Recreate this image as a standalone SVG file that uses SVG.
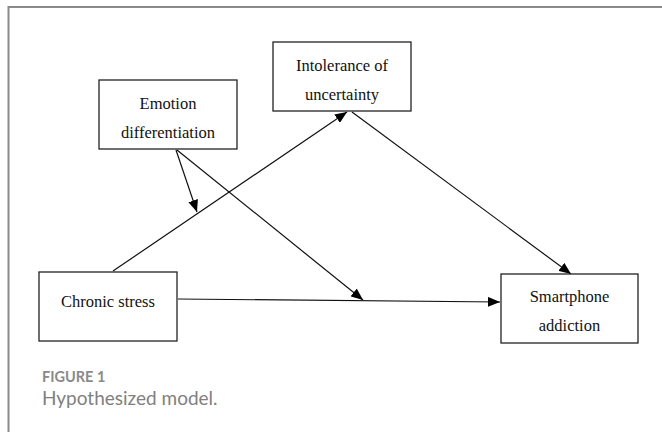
<svg xmlns="http://www.w3.org/2000/svg" width="662" height="432" viewBox="0 0 662 432">
<defs>
<style>
.box{fill:#fff;stroke:#222;stroke-width:1.3}
.t{font-family:"Liberation Serif","Times New Roman",serif;font-size:16.5px;fill:#111;text-anchor:middle}
.c{stroke:#111;stroke-width:1.2;fill:none;marker-end:url(#ah)}
.frame{stroke:#8a8a8a;stroke-width:2;fill:none}
</style>
<marker id="ah" viewBox="0 0 12 10" refX="12" refY="5" markerWidth="12" markerHeight="10" markerUnits="userSpaceOnUse" orient="auto">
<path d="M0,0 L12,5 L0,10 Z" fill="#000"/>
</marker>
</defs>
<rect width="662" height="432" fill="#fff"/>
<path class="frame" d="M8.5,440 L8.5,7 L670,7"/>
<g id="connectors">
<line class="c" x1="113" y1="271" x2="347" y2="112"/>
<line class="c" x1="352" y1="112" x2="571" y2="274"/>
<line class="c" x1="178" y1="299" x2="500" y2="302"/>
<line class="c" x1="176" y1="150" x2="197" y2="212"/>
<line class="c" x1="177" y1="150" x2="363" y2="300"/>
</g>
<g id="emotion">
<rect class="box" x="99" y="80" width="138" height="69"/>
<text class="t" x="168" y="109">Emotion</text>
<text class="t" x="168" y="138">differentiation</text>
</g>
<g id="intolerance">
<rect class="box" x="273" y="42" width="138" height="69"/>
<text class="t" x="342" y="71">Intolerance of</text>
<text class="t" x="342" y="100">uncertainty</text>
</g>
<g id="chronic">
<rect class="box" x="39" y="272" width="138" height="69"/>
<text class="t" x="108" y="307">Chronic stress</text>
</g>
<g id="smartphone">
<rect class="box" x="501" y="274" width="137" height="69"/>
<text class="t" x="569.5" y="302">Smartphone</text>
<text class="t" x="569.5" y="331">addiction</text>
</g>
<g id="caption">
<text x="42" y="382" font-family="Lato, 'Open Sans', sans-serif" font-weight="bold" font-size="14.5" fill="#8a8a8a">FIGURE 1</text>
<text x="42" y="405" font-family="Lato, 'Open Sans', sans-serif" font-size="19" fill="#808080">Hypothesized model.</text>
</g>
</svg>
